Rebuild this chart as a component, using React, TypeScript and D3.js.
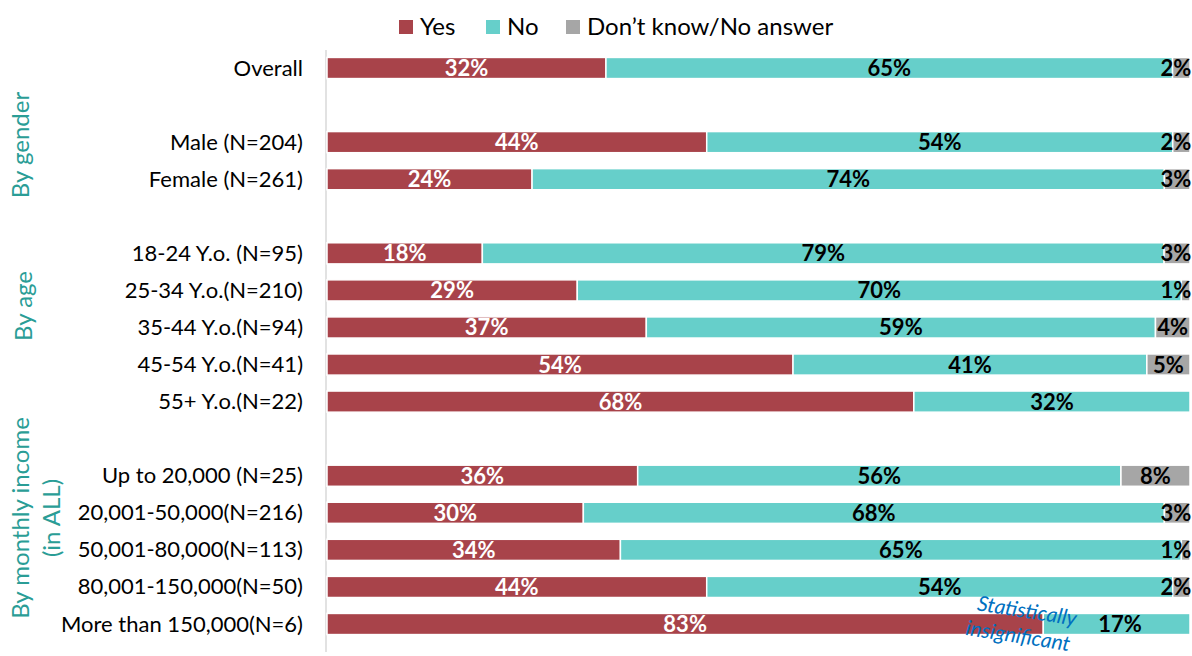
import React from "react";
import * as d3 from "d3";

const categories = [
  "Overall", "", "Male (N=204)", "Female (N=261)", "",
  "18-24 Y.o. (N=95)", "25-34 Y.o.(N=210)", "35-44 Y.o.(N=94)", "45-54 Y.o.(N=41)", "55+ Y.o.(N=22)", "",
  "Up to 20,000 (N=25)", "20,001-50,000(N=216)", "50,001-80,000(N=113)", "80,001-150,000(N=50)", "More than 150,000(N=6)",
];
const yesValues = [32, null, 44, 24, null, 18, 29, 37, 54, 68, null, 36, 30, 34, 44, 83];
const noValues = [65, null, 54, 74, null, 79, 70, 59, 41, 32, null, 56, 68, 65, 54, 17];
const dkValues = [2, null, 2, 3, null, 3, 1, 4, 5, 0, null, 8, 3, 1, 2, 0];
const seriesNames = ["Yes", "No", "Don\u2019t know/No answer"];
const groupNames = [["By gender"], ["By age"], ["By monthly income", "(in ALL)"]];

const colors = ["#a8434a", "#66cfca", "#a6a6a6"];
const labelColors = ["#ffffff", "#000000", "#000000"];
const groupLabelLayout = [
  { cx: 29, cy: 145 },
  { cx: 32, cy: 306 },
  { cx: 29, cy: 518 },
];

const W = 1192, H = 656;
const FONT = "Lato, 'Open Sans', sans-serif";

export default function App() {
  const x = d3.scaleLinear().domain([0, 1]).range([327, 1190]);
  const idx = categories.map((_, i) => i);
  const y = d3.scalePoint<number>().domain(idx).range([68, 624]);
  const bh = y.step() * 0.57;

  const rows = idx.map((i) => {
    const vals = [yesValues[i], noValues[i], dkValues[i]];
    if (vals[0] == null) return null;
    const total = d3.sum(vals as number[]);
    let acc = 0;
    const segs = vals.map((v, s) => {
      const x0 = acc / total;
      acc += v as number;
      return { s, v: v as number, x0, x1: acc / total };
    });
    return { i, segs };
  });

  return (
    <svg width={W} height={H} style={{ position: "absolute", left: 0, top: 0 }}>
      <rect width={W} height={H} fill="#fff" />
      {/* legend */}
      {seriesNames.map((n, k) => {
        const lx = [399, 486, 566][k];
        return (
          <g key={n}>
            <rect x={lx} y={20} width={14} height={14} fill={colors[k]} />
            <text x={lx + 21} y={35} fontFamily={FONT} fontSize={24} fill="#000">{n}</text>
          </g>
        );
      })}
      {/* axis line */}
      <line x1={326} x2={326} y1={50} y2={652} stroke="#d9d9d9" strokeWidth={1.5} />
      {/* category labels */}
      {categories.map((c, i) => (
        <text key={i} x={303} y={(y(i) as number) + 7.5} textAnchor="end" fontFamily={FONT} fontSize={22} fill="#000">{c}</text>
      ))}
      {/* bars */}
      {rows.map((r) =>
        r ? (
          <g key={r.i}>
            {r.segs.map((sg) =>
              sg.v > 0 ? (
                <rect key={sg.s} x={x(sg.x0)} y={(y(r.i) as number) - bh / 2} width={x(sg.x1) - x(sg.x0)} height={bh}
                  fill={colors[sg.s]} stroke="#fff" strokeWidth={1.5} />
              ) : null
            )}
            {r.segs.map((sg) => {
              if (!(sg.v > 0)) return null;
              let cx = (x(sg.x0) + x(sg.x1)) / 2;
              const tw = sg.v >= 10 ? 46 : 30;
              if (cx + tw / 2 > 1191) cx = 1191 - tw / 2;
              if (r.i === 15 && sg.s === 1) cx = 1120;
              return (
                <text key={"t" + sg.s} x={cx} y={(y(r.i) as number) + 8} textAnchor="middle" fontFamily={FONT}
                  fontWeight="bold" fontSize={22} fill={labelColors[sg.s]}>{sg.v}%</text>
              );
            })}
          </g>
        ) : null
      )}
      {/* group labels */}
      {groupNames.map((lines, k) => {
        const { cx, cy } = groupLabelLayout[k];
        return (
          <text key={k} transform={`translate(${cx},${cy}) rotate(-90)`} textAnchor="middle" fontFamily={FONT}
            fontSize={24} fill="#2a9d96">
            {lines.map((l, j) => (
              <tspan key={j} x={0} dy={j === 0 ? 0 : 31}>{l}</tspan>
            ))}
          </text>
        );
      })}
      {/* annotation */}
      <text transform="translate(1026,618) rotate(9)" textAnchor="middle" fontFamily={FONT} fontStyle="italic"
        fontSize={21} fill="#0070c0">
        <tspan x={0} dy={0}>Statistically</tspan>
        <tspan x={-5} dy={26}>insignificant</tspan>
      </text>
    </svg>
  );
}
